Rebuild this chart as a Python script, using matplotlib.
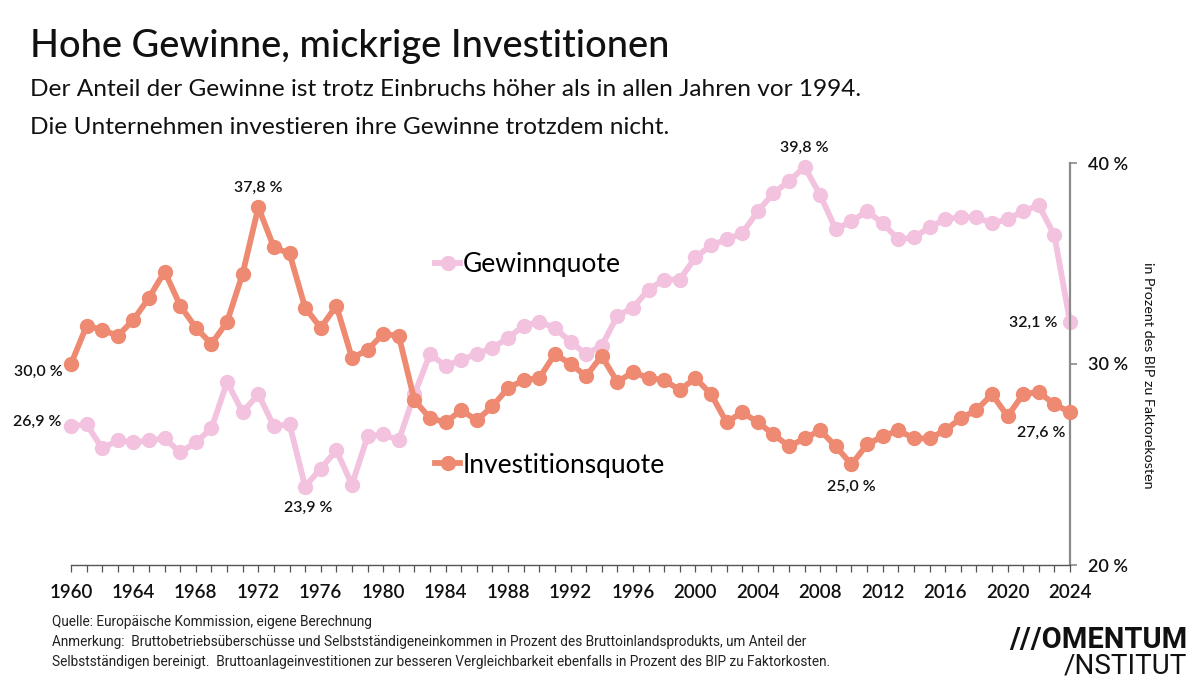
import matplotlib.pyplot as plt
from matplotlib.lines import Line2D
from matplotlib import font_manager
import numpy as np

years = list(range(1960, 2025))

# Gewinnquote, in % des BIP zu Faktorkosten
gewinnquote = [
    26.9, 27.0, 25.8, 26.2, 26.1, 26.2, 26.3, 25.6, 26.1, 26.8,
    29.1, 27.6, 28.5, 26.9, 27.0, 23.9, 24.8, 25.7, 24.0, 26.4,
    26.5, 26.2, 28.5, 30.5, 29.9, 30.2, 30.5, 30.8, 31.3, 31.9,
    32.1, 31.8, 31.1, 30.5, 30.9, 32.4, 32.8, 33.7, 34.2, 34.2,
    35.3, 35.9, 36.2, 36.5, 37.6, 38.5, 39.1, 39.8, 38.4, 36.7,
    37.1, 37.6, 37.0, 36.2, 36.3, 36.8, 37.2, 37.3, 37.3, 37.0,
    37.2, 37.6, 37.9, 36.4, 32.1,
]

# Investitionsquote, in % des BIP zu Faktorkosten
investitionsquote = [
    30.0, 31.9, 31.7, 31.4, 32.2, 33.3, 34.6, 32.9, 31.8, 31.0,
    32.1, 34.5, 37.8, 35.8, 35.5, 32.8, 31.8, 32.9, 30.3, 30.7,
    31.5, 31.4, 28.2, 27.3, 27.1, 27.7, 27.2, 27.9, 28.8, 29.2,
    29.3, 30.5, 30.0, 29.4, 30.4, 29.1, 29.6, 29.3, 29.2, 28.7,
    29.3, 28.5, 27.1, 27.6, 27.1, 26.5, 25.9, 26.3, 26.7, 25.9,
    25.0, 26.0, 26.4, 26.7, 26.3, 26.3, 26.7, 27.3, 27.7, 28.5,
    27.4, 28.5, 28.6, 28.0, 27.6,
]

y_ticks = [20, 30, 40]
y_tick_labels = ["20 %", "30 %", "40 %"]
x_tick_labels = list(range(1960, 2025, 4))

PINK = "#F2C2DF"
ORANGE = "#EE8A71"
TEXT = "#111111"

installed = {f.name for f in font_manager.fontManager.ttflist}
NARROW = "Liberation Sans Narrow" if "Liberation Sans Narrow" in installed else "Roboto"
plt.rcParams["font.family"] = ["Lato", "DejaVu Sans"]

fig = plt.figure(figsize=(12, 6.86), dpi=100)
ax = fig.add_axes([71 / 1200, 1 - 565 / 686, (1070 - 71) / 1200, (565 - 163) / 686])

line_kw = dict(lw=4.2, marker="o", ms=10, clip_on=False, solid_joinstyle="round")
ax.plot(years, gewinnquote, color=PINK, zorder=2, **line_kw)
ax.plot(years, investitionsquote, color=ORANGE, zorder=3, **line_kw)

ax.set_xlim(1960, 2024)
ax.set_ylim(20, 40)

for s in ["top", "left"]:
    ax.spines[s].set_visible(False)
ax.spines["right"].set_color("#8a8a8a")
ax.spines["right"].set_linewidth(1.6)
ax.spines["bottom"].set_color("#555555")
ax.spines["bottom"].set_linewidth(1.0)

ax.yaxis.tick_right()
ax.set_yticks(y_ticks)
ax.set_yticklabels(y_tick_labels)
ax.tick_params(axis="y", length=5, width=1.2, color="#8a8a8a", pad=8,
               labelsize=13, labelcolor=TEXT)
ax.set_xticks(x_tick_labels)
ax.set_xticklabels([str(y) for y in x_tick_labels])
ax.set_xticks(years, minor=True)
ax.tick_params(axis="x", which="both", length=5, width=0.9, color="#555555",
               pad=9, labelsize=13.5, labelcolor=TEXT)
for t in ax.get_xticklabels() + ax.get_yticklabels():
    t.set_fontweight("semibold")

ax.yaxis.set_label_position("right")
ax.set_ylabel("in Prozent des BIP zu Faktorekosten", rotation=-90, fontsize=10.3,
              color=TEXT)
ax.yaxis.set_label_coords(1148 / 1200, 1 - 375 / 686, transform=fig.transFigure)
ax.yaxis.label.set_va("center")

# Datenbeschriftungen
lab_kw = dict(textcoords="offset points", fontsize=11.5, color=TEXT, fontweight="semibold")
ax.annotate("30,0 %", (1960, investitionsquote[0]), xytext=(-6, -6), ha="right", va="center", **lab_kw)
ax.annotate("26,9 %", (1960, gewinnquote[0]), xytext=(-7, 3), ha="right", va="center", **lab_kw)
ax.annotate("37,8 %", (1972, investitionsquote[12]), xytext=(0, 14), ha="center", va="center", **lab_kw)
ax.annotate("23,9 %", (1975, gewinnquote[15]), xytext=(2, -15), ha="center", va="center", **lab_kw)
ax.annotate("39,8 %", (2007, gewinnquote[47]), xytext=(0, 14), ha="center", va="center", **lab_kw)
ax.annotate("25,0 %", (2010, investitionsquote[50]), xytext=(0, -16), ha="center", va="center", **lab_kw)
ax.annotate("32,1 %", (2024, gewinnquote[64]), xytext=(-9, -1), ha="right", va="center", **lab_kw)
ax.annotate("27,6 %", (2024, investitionsquote[64]), xytext=(-3, -15), ha="right", va="center", **lab_kw)

# Inline-Legende
leg_kw = dict(frameon=False, fontsize=19, handlelength=0.95, handletextpad=0.1,
              borderpad=0, borderaxespad=0)
h1 = Line2D([], [], color=PINK, lw=4.2, marker="o", ms=10)
h2 = Line2D([], [], color=ORANGE, lw=4.2, marker="o", ms=10)
leg1 = ax.legend([h1], ["Gewinnquote"], loc="center left",
                 bbox_to_anchor=(435 / 1200, 1 - 265 / 686),
                 bbox_transform=fig.transFigure, **leg_kw)
ax.add_artist(leg1)
ax.legend([h2], ["Investitionsquote"], loc="center left",
          bbox_to_anchor=(435 / 1200, 1 - 465 / 686),
          bbox_transform=fig.transFigure, **leg_kw)

# Titel
fig.text(30 / 1200, 1 - 47 / 686, "Hohe Gewinne, mickrige Investitionen",
         fontsize=27.3, fontweight="medium", color=TEXT, va="center", ha="left")
fig.text(30 / 1200, 1 - 90 / 686,
         "Der Anteil der Gewinne ist trotz Einbruchs höher als in allen Jahren vor 1994.",
         fontsize=17.6, fontweight="normal", color=TEXT, va="center", ha="left")
fig.text(30 / 1200, 1 - 127 / 686,
         "Die Unternehmen investieren ihre Gewinne trotzdem nicht.",
         fontsize=17.6, fontweight="normal", color=TEXT, va="center", ha="left")

# Fußnote
foot = [
    "Quelle: Europäische Kommission, eigene Berechnung",
    "Anmerkung:  Bruttobetriebsüberschüsse und Selbstständigeneinkommen in Prozent des Bruttoinlandsprodukts, um Anteil der",
    "Selbstständigen bereinigt.  Bruttoanlageinvestitionen zur besseren Vergleichbarkeit ebenfalls in Prozent des BIP zu Faktorkosten.",
]
for i, line in enumerate(foot):
    fig.text(52 / 1200, 1 - (622 + 20 * i) / 686, line, fontsize=9.8,
             family=[NARROW, "DejaVu Sans"], color="#222222", va="center", ha="left")

# Logo
fig.text(1187 / 1200, 1 - 640 / 686, "///OMENTUM", fontsize=21, fontweight="bold",
         family=["Roboto", "DejaVu Sans"], color=TEXT, ha="right", va="center")
fig.text(1187 / 1200, 1 - 666 / 686, "/NSTITUT", fontsize=20,
         family=["Roboto", "DejaVu Sans"], color=TEXT, ha="right", va="center")

fig.savefig("out.png", dpi=100, facecolor="white")
